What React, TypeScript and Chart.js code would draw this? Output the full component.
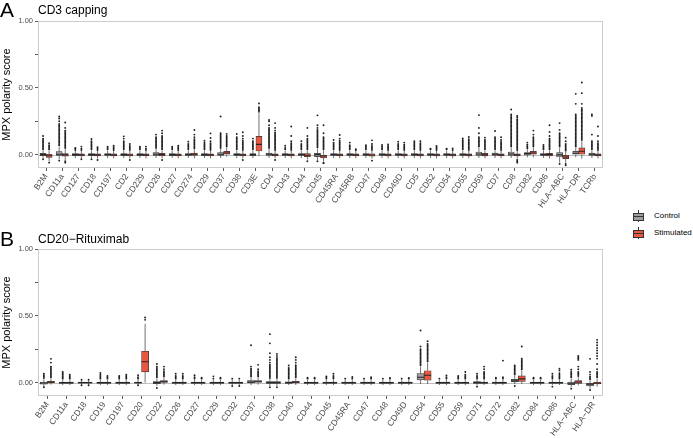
import React, { useEffect, useRef } from "react";
import { Chart, registerables } from "chart.js";
Chart.register(...registerables);

const FONT = "'Liberation Sans', Arial, Helvetica, sans-serif";
const CTRL_COLOR = "#9E9E9E";
const STIM_COLOR = "#E8573F";

// ---------------- Panel A: CD3 capping ----------------
const topCats = ["B2M","CD11a","CD127","CD18","CD197","CD2","CD229","CD26","CD27","CD274","CD29","CD37","CD38","CD3E","CD4","CD43","CD44","CD45","CD45RA","CD45RB","CD47","CD48","CD49D","CD5","CD52","CD54","CD55","CD59","CD7","CD8","CD82","CD86","HLA\u2212ABC","HLA\u2212DR","TCRb"];

const topCtrlQ1 = [-0.008,-0.005,-0.008,-0.008,-0.006,-0.008,-0.007,-0.005,-0.007,-0.006,-0.007,-0.005,-0.006,-0.008,-0.005,-0.006,-0.006,-0.015,-0.006,-0.006,-0.006,-0.006,-0.006,-0.006,-0.006,-0.006,-0.006,-0.005,-0.005,-0.005,-0.002,-0.006,-0.018,0,-0.005];
const topCtrlMed = [0,0.003,0,0,0,0,0,0.003,0,0,0,0.003,0,0,0.003,0,0,0,0,0,0,0,0,0,0,0,0,0.005,0.003,0.005,0.008,0,-0.002,0.01,0.003];
const topCtrlQ3 = [0.01,0.022,0.008,0.008,0.008,0.008,0.008,0.015,0.008,0.008,0.008,0.015,0.008,0.008,0.012,0.008,0.008,0.01,0.008,0.008,0.008,0.008,0.008,0.008,0.008,0.008,0.008,0.02,0.012,0.02,0.015,0.008,0.015,0.025,0.012];
const topCtrlLo = [-0.025,-0.035,-0.025,-0.025,-0.025,-0.025,-0.025,-0.025,-0.025,-0.025,-0.025,-0.025,-0.025,-0.025,-0.025,-0.025,-0.025,-0.04,-0.025,-0.025,-0.025,-0.025,-0.025,-0.025,-0.025,-0.025,-0.025,-0.025,-0.025,-0.025,-0.02,-0.025,-0.06,-0.02,-0.025];
const topCtrlHi = [0.03,0.06,0.03,0.03,0.03,0.03,0.03,0.04,0.03,0.03,0.03,0.04,0.03,0.03,0.04,0.03,0.03,0.045,0.03,0.03,0.03,0.03,0.03,0.03,0.03,0.03,0.03,0.05,0.03,0.05,0.035,0.03,0.05,0.05,0.03];
const topCtrlOut = [
  [0.04,0.05,0.06,0.07,0.08,0.09,0.1,0.11,0.12,0.14,-0.035],
  [0.07,0.08,0.09,0.1,0.11,0.12,0.13,0.14,0.15,0.16,0.17,0.18,0.19,0.2,0.21,0.22,0.23,0.25,0.27,0.285,-0.045],
  [0.035,0.045,0.05],
  [0.04,0.05,0.06,0.07,0.08,0.09,0.1,0.117,-0.035],
  [0.04,0.05,0.06],
  [0.04,0.05,0.06,0.07,0.08,0.09,0.1,0.12,0.137],
  [0.04,0.05,0.06],
  [0.05,0.06,0.07,0.08,0.09,0.1,0.11,0.12,0.13,0.15],
  [0.04,0.05,0.06],
  [0.04,0.05,0.06,0.07,0.08,0.097],
  [0.04,0.05,0.06,0.07,0.08,0.09,0.104],
  [0.05,0.06,0.07,0.08,0.09,0.1,0.11,0.12,0.13,0.14,0.15,0.16,0.285],
  [0.04,0.05,0.06,0.07,0.08,0.09,0.1,0.11,0.12,0.13,0.154],
  [0.04,0.05,0.06,0.07,0.08,0.09,0.1,0.12],
  [0.05,0.06,0.07,0.08,0.09,0.1,0.11,0.12,0.13,0.14,0.15,0.16,0.17,0.18,0.19,0.2,0.22,0.25,0.26],
  [0.04,0.05,0.067],
  [0.04,0.05,0.06,0.07,0.08,0.1],
  [0.055,0.065,0.075,0.085,0.095,0.105,0.115,0.125,0.135,0.145,0.155,0.165,0.175,0.185,0.2,0.22,0.294,-0.05],
  [0.04,0.05,0.06,0.07,0.08,0.09,0.11],
  [0.04,0.05,0.06,0.07,0.09],
  [0.04,0.05,0.06,0.07],
  [0.04,0.05,0.06,0.072],
  [0.04,0.05,0.06,0.07,0.08,0.097],
  [0.04,0.05,0.06,0.07,0.08,0.09,0.1],
  [0.04,0.045],
  [0.04,0.045],
  [0.04,0.05,0.06,0.07,0.08,0.09,0.1,0.11,0.122],
  [0.06,0.07,0.08,0.09,0.1,0.11,0.12,0.13,0.16,0.2,0.296],
  [0.04,0.05,0.06,0.07,0.08,0.09,0.1,0.11,0.12,0.13,0.177],
  [0.06,0.07,0.08,0.09,0.1,0.11,0.12,0.13,0.14,0.15,0.16,0.17,0.18,0.19,0.2,0.21,0.22,0.23,0.24,0.25,0.26,0.27,0.28,0.29,0.3,0.338],
  [0.045,0.055,0.065,0.075,0.09],
  [0.04,0.05,0.06,0.072],
  [0.06,0.07,0.08,0.09,0.1,0.11,0.12,0.13,0.14,0.15,0.16,0.185,0.236,-0.07],
  [0.06,0.07,0.08,0.09,0.1,0.11,0.12,0.13,0.14,0.15,0.16,0.17,0.18,0.19,0.2,0.21,0.22,0.23,0.24,0.25,0.26,0.27,0.28,0.29,0.3,0.38,0.455],
  [0.04,0.05,0.06,0.07,0.08,0.09,0.1,0.15,0.29,0.3],
];

const topStimQ1 = [-0.02,-0.012,-0.01,-0.01,-0.01,-0.01,-0.01,-0.01,-0.01,-0.005,-0.01,0,-0.01,0.027,-0.01,-0.01,-0.015,-0.025,-0.01,-0.01,-0.012,-0.01,-0.01,-0.01,-0.01,-0.01,-0.01,-0.01,-0.01,-0.01,0,-0.01,-0.03,0,-0.01];
const topStimMed = [-0.008,-0.002,-0.002,-0.002,-0.002,-0.003,-0.002,0,-0.002,0.003,-0.002,0.012,-0.002,0.077,-0.002,-0.002,-0.005,-0.01,-0.002,-0.002,-0.003,-0.002,-0.002,-0.002,-0.002,-0.002,-0.002,-0.002,-0.002,-0.002,0.012,0,-0.018,0.025,-0.002];
const topStimQ3 = [0.003,0.008,0.006,0.006,0.006,0.006,0.006,0.01,0.006,0.012,0.006,0.025,0.006,0.137,0.006,0.006,0.008,0,0.006,0.006,0.006,0.006,0.006,0.006,0.006,0.006,0.006,0.01,0.006,0.006,0.024,0.01,-0.005,0.05,0.006];
const topStimLo = [-0.05,-0.04,-0.028,-0.028,-0.028,-0.028,-0.028,-0.028,-0.028,-0.028,-0.028,-0.015,-0.028,-0.01,-0.028,-0.028,-0.035,-0.05,-0.028,-0.028,-0.03,-0.028,-0.028,-0.028,-0.028,-0.028,-0.028,-0.028,-0.028,-0.03,-0.02,-0.028,-0.06,-0.03,-0.028];
const topStimHi = [0.03,0.04,0.028,0.028,0.028,0.028,0.028,0.03,0.028,0.035,0.028,0.05,0.028,0.31,0.028,0.028,0.03,0.03,0.028,0.028,0.028,0.028,0.028,0.028,0.028,0.028,0.028,0.03,0.028,0.028,0.05,0.03,0.02,0.1,0.028];
const topStimOut = [
  [0.04,0.05,0.06,0.07,0.085,-0.06],
  [0.05,0.06,0.07,0.08,0.09,0.1,0.11,0.12,0.13,0.14,0.15,0.16,0.17,0.18,0.2,0.24,-0.05,-0.06],
  [0.035,0.045,0.06,-0.035],
  [0.035,0.045,0.055,-0.04],
  [0.035,0.045,0.055,0.067],
  [0.035,0.045,0.055,0.065,0.08,-0.04],
  [0.035,0.045,0.06],
  [0.04,0.05,0.06,0.07,0.08,0.09,0.1,0.11,0.12,0.13,0.14,0.16,0.18,-0.04],
  [0.035,0.045,0.055,0.067],
  [0.045,0.055,0.065,0.075,0.085,0.095,0.105,0.115,0.13,0.15,0.184],
  [0.035,0.045,0.055,0.065,0.075,0.085,0.1,0.125,0.159],
  [0.06,0.07,0.08,0.09,0.1,0.11,0.12,0.13,0.14,0.155],
  [0.035,0.045,0.055,0.065,0.075,0.085,0.095,0.105,0.12,0.14,0.167,-0.04],
  [0.32,0.33,0.335,0.345,0.355,0.383],
  [0.035,0.045,0.055,0.065,0.075,0.085,0.095,0.105,0.115,0.125,0.135,0.145,0.155,0.165,0.18,0.2,0.236,-0.04],
  [0.035,0.045,0.055,0.065,0.075,0.085,0.1,0.14,0.21],
  [0.04,0.05,0.06,0.07,0.08,0.09,0.1,0.11,0.12,0.14,0.2,-0.05],
  [0.04,0.05,0.06,0.07,0.08,0.09,0.1,0.11,0.12,0.13,0.16,0.22,-0.06,-0.065],
  [0.035,0.045,0.055,0.065,0.075,0.085,0.095,0.105,0.12,0.147],
  [0.035,0.04],
  [0.035,0.045,0.055,0.065,0.08,0.107,-0.045],
  [0.035,0.045,0.055,0.065,0.077],
  [0.035,0.045,0.055,0.065,0.075,0.09],
  [0.035,0.045,0.055,0.065,0.075,0.085,0.1],
  [0.035,0.045,0.055,0.065],
  [0.035,0.047],
  [0.035,0.045,0.055,0.065,0.075,0.085,0.095,0.105,0.115,0.132],
  [0.04,0.05,0.06,0.07,0.08,0.09,0.1,0.11,0.127],
  [0.035,0.045,0.055,0.065,0.075,0.085,0.095,0.11,0.13],
  [0.035,0.045,0.055,0.065,0.075,0.085,0.095,0.105,0.115,0.125,0.135,0.145,0.155,0.165,0.175,0.185,0.195,0.205,0.215,0.225,0.235,0.245,0.255,0.265,0.28,0.29,-0.04,-0.05,-0.06],
  [0.06,0.07,0.08,0.09,0.1,0.11,0.12,0.13,0.15,0.18],
  [0.04,0.05,0.06,0.07,0.08,0.09,0.1,0.11,0.12,0.14,0.17,0.22],
  [0.03,0.04,0.05,0.06,0.07,0.08,0.1,0.127,-0.07,-0.08],
  [0.11,0.12,0.13,0.14,0.15,0.16,0.17,0.18,0.19,0.2,0.21,0.22,0.23,0.24,0.25,0.26,0.27,0.28,0.29,0.3,0.31,0.32,0.33,0.34,0.35,0.38,0.46,0.54],
  [0.035,0.045,0.055,0.065,0.075,0.085,0.1,0.14,0.21],
];

// ---------------- Panel B: CD20-Rituximab ----------------
const botCats = ["B2M","CD11a","CD18","CD19","CD197","CD20","CD22","CD26","CD27","CD29","CD32","CD37","CD38","CD40","CD44","CD45","CD45RA","CD47","CD48","CD49D","CD54","CD55","CD59","CD71","CD72","CD82","CD84","CD86","HLA\u2212ABC","HLA\u2212DR"];

const botCtrlQ1 = [-0.012,-0.005,-0.004,-0.005,-0.005,-0.004,-0.008,-0.005,-0.005,-0.005,-0.005,-0.002,-0.005,-0.005,-0.005,-0.005,-0.005,-0.005,-0.005,-0.005,0.02,-0.005,-0.005,-0.005,-0.005,0.005,-0.005,-0.005,-0.015,-0.025];
const botCtrlMed = [-0.003,0,0,0,0,0,0,0,0,0,0,0.004,0,0,0,0,0,0,0,0,0.04,0,0,0,0,0.013,0,0,-0.005,-0.012];
const botCtrlQ3 = [0.005,0.005,0.004,0.005,0.005,0.004,0.008,0.005,0.005,0.005,0.005,0.015,0.008,0.006,0.005,0.005,0.005,0.005,0.005,0.005,0.067,0.005,0.005,0.007,0.005,0.025,0.005,0.005,0.005,-0.005];
const botCtrlLo = [-0.03,-0.018,-0.015,-0.018,-0.018,-0.015,-0.025,-0.018,-0.018,-0.018,-0.018,-0.018,-0.025,-0.018,-0.018,-0.018,-0.018,-0.018,-0.018,-0.018,-0.01,-0.018,-0.018,-0.02,-0.018,-0.01,-0.018,-0.018,-0.035,-0.045];
const botCtrlHi = [0.025,0.02,0.015,0.02,0.02,0.02,0.03,0.02,0.02,0.02,0.02,0.035,0.025,0.02,0.02,0.02,0.02,0.02,0.02,0.02,0.12,0.02,0.02,0.02,0.02,0.05,0.02,0.02,0.03,0.015];
const botCtrlOut = [
  [0.035,0.045,0.055,0.067,-0.035],
  [0.03,0.04,0.05,0.06,0.07,0.08],
  [0.022,-0.02],
  [0.03,0.04,0.05,0.06,0.072],
  [0.03,0.04,0.05],
  [0.03,0.04,0.055,-0.02],
  [0.04,0.05,0.06,0.07,0.08,0.09,0.1,0.11,0.12,0.14,-0.04],
  [0.03,0.04,0.05,0.067],
  [0.03,0.04,0.055],
  [0.03,0.047],
  [0.03,-0.025],
  [0.045,0.055,0.065,0.075,0.085,0.095,0.105,0.12,0.28],
  [0.035,0.045,0.055,0.065,0.075,0.085,0.095,0.105,0.115,0.125,0.135,0.15,0.17,0.19,0.22,0.294,0.363,-0.035],
  [0.03,0.04,0.05,0.06,0.07,0.08,0.09,0.1,0.11,0.128],
  [0.03,0.037],
  [0.03,0.04,0.047],
  [0.03],
  [0.03],
  [0.03],
  [0.03],
  [0.13,0.14,0.15,0.16,0.17,0.18,0.19,0.2,0.21,0.22,0.23,0.24,0.25,0.27,0.39],
  [0.03],
  [0.03,0.04,0.05],
  [0.03,0.04,0.05,0.067,-0.03],
  [0.03,0.037],
  [0.06,0.07,0.08,0.09,0.1,0.11,0.12,0.128,-0.025],
  [0.03,0.037],
  [0.03,0.04,0.05,0.067,-0.03],
  [0.04,0.05,0.06,0.07,0.08,0.096,-0.045],
  [0.025,0.035,0.045,0.06,0.08,0.178,-0.055],
];

const botStimQ1 = [-0.003,-0.005,-0.004,-0.005,-0.005,0.081,0,-0.005,-0.005,-0.005,-0.005,0,-0.005,-0.002,-0.005,-0.005,-0.005,-0.005,-0.005,-0.005,0.018,-0.005,-0.005,-0.005,-0.005,0.01,-0.005,-0.005,-0.005,-0.01];
const botStimMed = [0.003,0,0,0,0,0.156,0.006,0,0,0,0,0.007,0,0.004,0,0,0,0,0,0,0.055,0,0,0,0,0.028,0,0,0.005,-0.003];
const botStimQ3 = [0.01,0.005,0.004,0.005,0.005,0.235,0.015,0.005,0.005,0.005,0.005,0.015,0.008,0.01,0.005,0.005,0.005,0.005,0.005,0.005,0.089,0.005,0.005,0.005,0.005,0.05,0.005,0.005,0.015,0.005];
const botStimLo = [-0.015,-0.018,-0.015,-0.018,-0.018,0,-0.015,-0.018,-0.018,-0.018,-0.018,-0.015,-0.025,-0.018,-0.018,-0.018,-0.018,-0.018,-0.018,-0.018,-0.01,-0.018,-0.018,-0.018,-0.018,-0.01,-0.018,-0.018,-0.02,-0.03];
const botStimHi = [0.03,0.02,0.015,0.02,0.02,0.44,0.035,0.02,0.02,0.02,0.02,0.035,0.025,0.03,0.02,0.02,0.02,0.02,0.02,0.02,0.15,0.02,0.02,0.02,0.02,0.09,0.02,0.02,0.04,0.03];
const botStimOut = [
  [0.04,0.05,0.06,0.07,0.08,0.09,0.1,0.11,0.12,0.15,0.178],
  [0.03,0.04,0.05,0.06],
  [0.022,-0.02],
  [0.03,0.04,0.05],
  [0.03,0.04,0.05,0.06],
  [0.47,0.487],
  [0.045,0.055,0.065,0.075,0.085,0.1,0.12],
  [0.03,0.04,0.05,0.067],
  [0.03,0.037],
  [0.03,0.037],
  [0.03,-0.025],
  [0.045,0.055,0.065,0.075,0.085,0.1,0.133],
  [0.035,0.045,0.055,0.065,0.075,0.085,0.095,0.105,0.115,0.125,0.135,0.145,0.155,0.165,0.175,0.185,0.2,0.215,-0.035],
  [0.04,0.05,0.06,0.07,0.08,0.09,0.1,0.11,0.12,0.13,0.15,0.17,0.19],
  [0.03,0.037],
  [0.03,0.04,0.05,0.067],
  [0.03,0.042],
  [0.03,0.04],
  [0.03,0.035],
  [0.03,0.035],
  [0.16,0.17,0.18,0.19,0.2,0.21,0.22,0.23,0.24,0.25,0.26,0.27,0.28,0.29,0.31],
  [0.03,0.04,0.054],
  [0.03,0.04,0.05,0.06,0.08],
  [0.03,0.04,0.05,0.06,0.07,0.08,0.1,0.12],
  [0.03,0.04,0.165],
  [0.1,0.11,0.12,0.13,0.14,0.15,0.16,0.17,0.18,0.27],
  [0.03,0.037],
  [0.03,0.04,0.05,0.06,0.07,0.09,0.104],
  [0.05,0.06,0.07,0.08,0.1,0.12,0.17,0.18,0.19,0.2],
  [0.04,0.05,0.06,0.07,0.08,0.1,0.14,0.18,0.2,0.22,0.24,0.26,0.28,0.3,0.32],
];

const yTickLabels: Record<string, string> = { "0": "0.00", "0.5": "0.50", "1": "1.00" };

type Stats = { q1: number[]; med: number[]; q3: number[]; lo: number[]; hi: number[]; out: number[][] };

const decoPlugin = {
  id: "deco",
  beforeDatasetsDraw(chart: any) {
    const { ctx, chartArea: a, scales } = chart;
    const py = Math.round(scales.y.getPixelForValue(0)) + 0.5;
    ctx.save();
    ctx.strokeStyle = "#BEBEBE";
    ctx.lineWidth = 1;
    ctx.beginPath();
    ctx.moveTo(a.left, py);
    ctx.lineTo(a.right, py);
    ctx.stroke();
    ctx.restore();
  },
  afterDraw(chart: any) {
    const { ctx, chartArea: a } = chart;
    ctx.save();
    ctx.strokeStyle = "#CCCCCC";
    ctx.lineWidth = 1;
    ctx.strokeRect(Math.round(a.left) + 0.5, Math.round(a.top) + 0.5, Math.round(a.width) - 1, Math.round(a.height) - 1);
    ctx.restore();
  },
};

function Panel({ cats, c, s }: { cats: string[]; c: Stats; s: Stats }) {
  const ref = useRef<HTMLCanvasElement>(null);
  useEffect(() => {
    const n = cats.length;
    const d = 0.1875;
    const boxes = (st: Stats, off: number) => cats.map((_, i) => ({ x: i + off, y: [st.q1[i], st.q3[i]] }));
    const whisk = (st: Stats, off: number) =>
      st.q1.flatMap((_, i) => [
        { x: i + off, y: st.lo[i] }, { x: i + off, y: st.q1[i] }, { x: i + off, y: null },
        { x: i + off, y: st.q3[i] }, { x: i + off, y: st.hi[i] }, { x: i + off, y: null },
      ]);
    const meds = (st: Stats, a: number, b: number) =>
      st.med.flatMap((m, i) => [{ x: i + a, y: m }, { x: i + b, y: m }, { x: i + b, y: null }]);
    const outs = (st: Stats, off: number) =>
      st.out.flatMap((arr, i) => arr.map((v) => ({ x: i + off, y: v })));

    const lineCommon = { type: "line" as const, xAxisID: "x", yAxisID: "y", pointRadius: 0, spanGaps: false, fill: false };
    const ptCommon = {
      type: "line" as const, xAxisID: "x", yAxisID: "y", showLine: false,
      pointRadius: 0.95, pointBorderWidth: 0, pointBackgroundColor: "#1E1E1E", backgroundColor: "#1E1E1E", borderColor: "#1E1E1E",
    };
    const barCommon = {
      type: "bar" as const, xAxisID: "x", yAxisID: "y", borderColor: "#333333", borderWidth: 0.7,
      borderSkipped: false as const, grouped: false, categoryPercentage: 1.0, barPercentage: 1.0,
    };

    const chart = new Chart(ref.current!, {
      type: "bar",
      data: {
        datasets: [
          { ...barCommon, label: "Control", data: boxes(c, -d), backgroundColor: CTRL_COLOR, order: 2 },
          { ...barCommon, label: "Stimulated", data: boxes(s, d), backgroundColor: STIM_COLOR, order: 2 },
          { ...lineCommon, label: "cw", data: whisk(c, -d), borderColor: "#333333", borderWidth: 0.7, order: 3 },
          { ...lineCommon, label: "sw", data: whisk(s, d), borderColor: "#333333", borderWidth: 0.7, order: 3 },
          { ...lineCommon, label: "cm", data: meds(c, -0.375, 0), borderColor: "#262626", borderWidth: 1.1, order: 1 },
          { ...lineCommon, label: "sm", data: meds(s, 0, 0.375), borderColor: "#262626", borderWidth: 1.1, order: 1 },
          { ...ptCommon, label: "co", data: outs(c, -d), order: 0 },
          { ...ptCommon, label: "so", data: outs(s, d), order: 0 },
        ] as any,
      },
      options: {
        responsive: false,
        animation: false,
        devicePixelRatio: 1,
        events: [],
        layout: { padding: { top: 21, right: 7, left: 0, bottom: 0 } },
        plugins: { legend: { display: false }, tooltip: { enabled: false }, title: { display: false } },
        scales: {
          x: {
            type: "linear",
            min: -0.5,
            max: n - 0.5,
            offset: false,
            grid: { display: true, drawOnChartArea: false, offset: false, tickLength: 3, color: "#333333", lineWidth: 0.8 },
            border: { display: false },
            afterBuildTicks: (sc: any) => {
              sc.ticks = cats.map((_, i) => ({ value: i }));
            },
            ticks: {
              autoSkip: false,
              maxRotation: 55,
              minRotation: 55,
              padding: 1,
              color: "#4D4D4D",
              font: { family: FONT, size: 8.5 },
              callback: (v: any) => {
                const k = Math.round(Number(v));
                return cats[k] !== undefined ? cats[k] : "";
              },
            },
            afterFit: (sc: any) => { sc.height = 42; },
          },
          y: {
            type: "linear",
            min: -0.1,
            max: 1,
            grid: { display: true, drawOnChartArea: false, tickLength: 3, color: "#333333", lineWidth: 0.8 },
            border: { display: false },
            ticks: {
              stepSize: 0.25,
              includeBounds: false,
              padding: 2,
              color: "#4D4D4D",
              font: { family: FONT, size: 7.5 },
              callback: (v: any) => {
                const k = String(Math.round(Number(v) * 100) / 100);
                return yTickLabels[k] ?? "";
              },
            },
            title: { display: true, text: "MPX polarity score", color: "#000000", font: { family: FONT, size: 11 }, padding: { top: 0, bottom: 2 } },
            afterFit: (sc: any) => { sc.width = 38; },
          },
        } as any,
      },
      plugins: [decoPlugin],
    });
    return () => chart.destroy();
  }, [cats, c, s]);
  return <canvas ref={ref} width={610} height={210} style={{ display: "block" }} />;
}

const topCtrl: Stats = { q1: topCtrlQ1, med: topCtrlMed, q3: topCtrlQ3, lo: topCtrlLo, hi: topCtrlHi, out: topCtrlOut };
const topStim: Stats = { q1: topStimQ1, med: topStimMed, q3: topStimQ3, lo: topStimLo, hi: topStimHi, out: topStimOut };
const botCtrl: Stats = { q1: botCtrlQ1, med: botCtrlMed, q3: botCtrlQ3, lo: botCtrlLo, hi: botCtrlHi, out: botCtrlOut };
const botStim: Stats = { q1: botStimQ1, med: botStimMed, q3: botStimQ3, lo: botStimLo, hi: botStimHi, out: botStimOut };

function LegendKey({ color }: { color: string }) {
  return (
    <div style={{ position: "relative", width: 12, height: 12 }}>
      <div style={{ position: "absolute", left: 5.5, top: 0, width: 1, height: 12, background: "#333" }} />
      <div style={{ position: "absolute", left: 0.5, top: 2.5, width: 9.5, height: 6, background: color, border: "1px solid #333" }} />
      <div style={{ position: "absolute", left: 0.5, top: 5.5, width: 11, height: 1.2, background: "#333" }} />
    </div>
  );
}

export default function App() {
  const txt: React.CSSProperties = { position: "absolute", fontFamily: FONT, color: "#000", whiteSpace: "nowrap", lineHeight: 1 };
  return (
    <div style={{ position: "absolute", left: 0, top: 0, width: 693, height: 438, background: "#fff", overflow: "hidden" }}>
      <div style={{ position: "absolute", left: 0, top: 0 }}>
        <Panel cats={topCats} c={topCtrl} s={topStim} />
      </div>
      <div style={{ position: "absolute", left: 0, top: 228 }}>
        <Panel cats={botCats} c={botCtrl} s={botStim} />
      </div>
      <div style={{ ...txt, left: 0, top: -1, fontSize: 21 }}>A</div>
      <div style={{ ...txt, left: 38, top: 4, fontSize: 12 }}>CD3 capping</div>
      <div style={{ ...txt, left: 0, top: 228, fontSize: 21 }}>B</div>
      <div style={{ ...txt, left: 38, top: 233, fontSize: 12 }}>CD20{"\u2212"}Rituximab</div>
      <div style={{ position: "absolute", left: 632, top: 210 }}>
        <LegendKey color={CTRL_COLOR} />
      </div>
      <div style={{ ...txt, left: 654, top: 212, fontSize: 8 }}>Control</div>
      <div style={{ position: "absolute", left: 632, top: 227 }}>
        <LegendKey color={STIM_COLOR} />
      </div>
      <div style={{ ...txt, left: 654, top: 229, fontSize: 8 }}>Stimulated</div>
    </div>
  );
}
